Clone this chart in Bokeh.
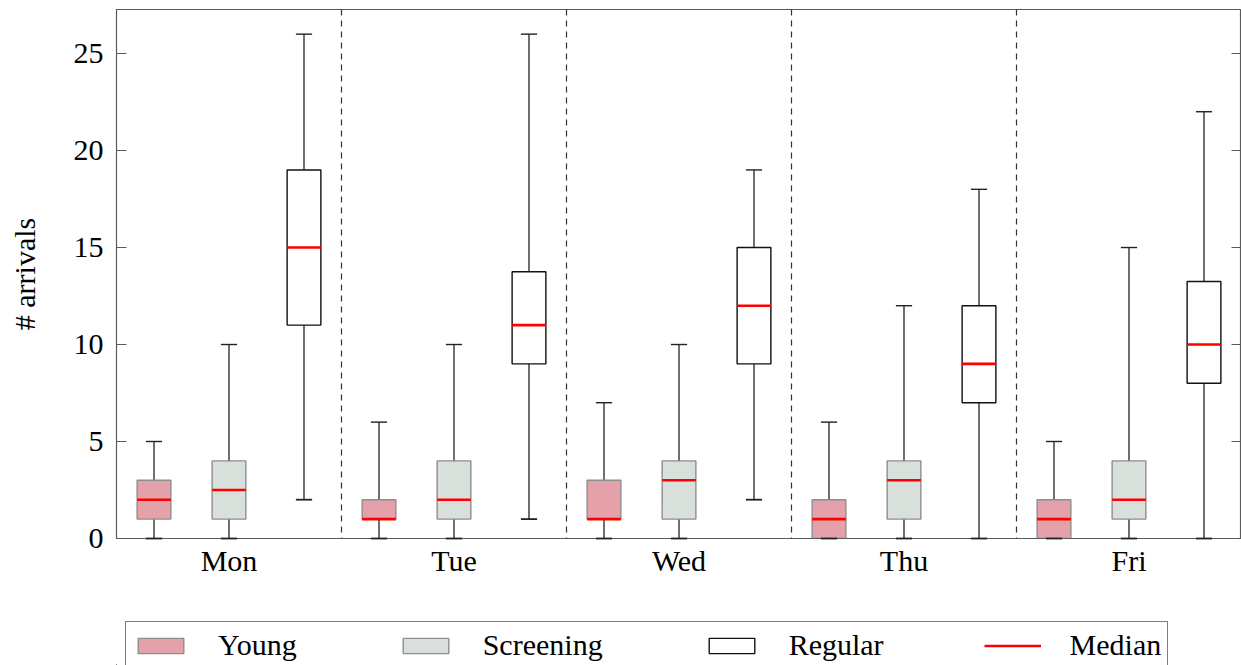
from bokeh.plotting import figure
from bokeh.layouts import column
from bokeh.models import (ColumnDataSource, Span, Legend, LegendItem, LinearAxis,
                          FixedTicker, CustomJSTickFormatter)
from bokeh.embed import file_html
from bokeh.resources import INLINE

# ---------------- data ----------------
days = ["Mon", "Tue", "Wed", "Thu", "Fri"]

young_min = [0, 0, 0, 0, 0]
young_q1 = [1, 1, 1, 0, 0]
young_med = [2, 1, 1, 1, 1]
young_q3 = [3, 2, 3, 2, 2]
young_max = [5, 6, 7, 6, 5]

screen_min = [0, 0, 0, 0, 0]
screen_q1 = [1, 1, 1, 1, 1]
screen_med = [2.5, 2, 3, 3, 2]
screen_q3 = [4, 4, 4, 4, 4]
screen_max = [10, 10, 10, 12, 15]

regular_min = [2, 1, 2, 0, 0]
regular_q1 = [11, 9, 9, 7, 8]
regular_med = [15, 11, 12, 9, 10]
regular_q3 = [19, 13.75, 15, 12, 13.25]
regular_max = [26, 26, 19, 18, 22]

y_ticks = [0, 5, 10, 15, 20, 25]
legend_labels = ["Young", "Screening", "Regular", "Median"]

# ---------------- styling ----------------
FONT = "Liberation Serif"
FS = "30px"
AX = "#5a5a5a"
BOX_W = 0.15
CAP_W = 0.072
YOUNG_FILL, SCREEN_FILL, REG_FILL = "#e5a1aa", "#d9dfdb", "white"
LIGHT_EDGE, DARK_EDGE = "#8e8e8e", "#111111"
MED_COLOR = "#ff0000"

p = figure(width=1241, height=580, x_range=(0, 5), y_range=(0, 27.27),
           output_backend="svg", toolbar_location=None,
           min_border_left=116, min_border_top=9, min_border_right=0,
           min_border_bottom=42, x_axis_type=None, y_axis_type=None)
p.grid.visible = False
p.outline_line_color = AX
p.outline_line_width = 1.2
p.background_fill_color = "white"
p.border_fill_color = "white"

# left axis
yl = LinearAxis(ticker=FixedTicker(ticks=y_ticks), axis_label="# arrivals")
yl.major_tick_in = 10
yl.major_tick_out = 0
yl.minor_tick_line_color = None
yl.axis_line_color = AX
yl.major_tick_line_color = AX
yl.major_label_text_font = FONT
yl.major_label_text_font_size = FS
yl.major_label_text_color = "black"
yl.major_label_standoff = 13
yl.axis_label_text_font = FONT
yl.axis_label_text_font_size = FS
yl.axis_label_text_font_style = "normal"
yl.axis_label_text_color = "black"
yl.axis_label_standoff = 30
p.add_layout(yl, "left")

# right axis (ticks only)
yr = LinearAxis(ticker=FixedTicker(ticks=y_ticks),
                formatter=CustomJSTickFormatter(code="return ''"))
yr.major_tick_in = 10
yr.major_tick_out = 0
yr.minor_tick_line_color = None
yr.axis_line_color = AX
yr.major_tick_line_color = AX
yr.major_label_standoff = 0
yr.major_label_text_font_size = "1px"
p.add_layout(yr, "right")

# bottom axis with day labels
centers = [i + 0.5 for i in range(len(days))]
xb = LinearAxis(ticker=FixedTicker(ticks=centers),
                major_label_overrides={c: d for c, d in zip(centers, days)})
xb.major_tick_in = 0
xb.major_tick_out = 0
xb.minor_tick_line_color = None
xb.axis_line_color = AX
xb.major_label_text_font = FONT
xb.major_label_text_font_size = FS
xb.major_label_text_color = "black"
xb.major_label_standoff = 5
p.add_layout(xb, "below")

# separators
for i in range(1, len(days)):
    p.add_layout(Span(location=i, dimension="height", line_color="#333333",
                      line_width=1.2, line_dash="6 5"))

series = [
    ("Young", 1 / 6, young_min, young_q1, young_med, young_q3, young_max, YOUNG_FILL, LIGHT_EDGE),
    ("Screening", 0.5, screen_min, screen_q1, screen_med, screen_q3, screen_max, SCREEN_FILL, LIGHT_EDGE),
    ("Regular", 5 / 6, regular_min, regular_q1, regular_med, regular_q3, regular_max, REG_FILL, DARK_EDGE),
]

sources = {}
for name, off, mn, q1, md, q3, mx, fill, line in series:
    x = [i + off for i in range(len(days))]
    src = ColumnDataSource(dict(
        x=x, mn=mn, q1=q1, md=md, q3=q3, mx=mx,
        x0=[v - BOX_W / 2 for v in x], x1=[v + BOX_W / 2 for v in x],
        c0=[v - CAP_W / 2 for v in x], c1=[v + CAP_W / 2 for v in x]))
    sources[name] = src
    # whiskers
    p.segment(x0="x", y0="q3", x1="x", y1="mx", source=src, line_color="#222222", line_width=1.3)
    p.segment(x0="x", y0="mn", x1="x", y1="q1", source=src, line_color="#222222", line_width=1.3)
    # box
    p.vbar(x="x", width=BOX_W, bottom="q1", top="q3", source=src,
           fill_color=fill, line_color=line, line_width=1.4)
    # caps
    p.segment(x0="c0", y0="mx", x1="c1", y1="mx", source=src, line_color="#222222",
              line_width=1.4, level="annotation")
    p.segment(x0="c0", y0="mn", x1="c1", y1="mn", source=src, line_color="#222222",
              line_width=1.8, level="annotation")
    # median
    p.segment(x0="x0", y0="md", x1="x1", y1="md", source=src, line_color=MED_COLOR,
              line_width=2.6, level="annotation")

# ---------------- legend strip below ----------------
# same data sources, but the strip's ranges lie far away from the data, so only the legend shows
p2 = figure(width=1241, height=85, x_range=(1000, 1001), y_range=(1000, 1001),
            output_backend="svg", toolbar_location=None,
            min_border_left=116, min_border_top=39, min_border_right=0,
            min_border_bottom=0, x_axis_type=None, y_axis_type=None)
p2.grid.visible = False
p2.outline_line_color = None
p2.background_fill_color = "white"
p2.border_fill_color = "white"

ly = p2.vbar(x="x", top="q3", bottom="q1", width=BOX_W, source=sources["Young"],
             fill_color=YOUNG_FILL, line_color=LIGHT_EDGE, line_width=1.4)
ls = p2.vbar(x="x", top="q3", bottom="q1", width=BOX_W, source=sources["Screening"],
             fill_color=SCREEN_FILL, line_color=LIGHT_EDGE, line_width=1.4)
lr = p2.vbar(x="x", top="q3", bottom="q1", width=BOX_W, source=sources["Regular"],
             fill_color=REG_FILL, line_color=DARK_EDGE, line_width=1.4)
lm = p2.segment(x0="x0", y0="md", x1="x1", y1="md", source=sources["Young"],
                line_color=MED_COLOR, line_width=2.6)

legend = Legend(items=[LegendItem(label=lab, renderers=[r])
                       for lab, r in zip(legend_labels, [ly, ls, lr, lm])],
                orientation="horizontal", location=(9, -4), margin=0)
legend.label_text_font = FONT
legend.label_text_font_size = FS
legend.label_text_color = "black"
legend.glyph_width = 57
legend.glyph_height = 19
legend.label_standoff = 29
legend.spacing = 100
legend.padding = 6
legend.border_line_color = "black"
legend.border_line_width = 1.2
legend.background_fill_color = "white"
legend.background_fill_alpha = 1.0
p2.add_layout(legend, "center")

open("out.html", "w").write(file_html(column(p, p2, spacing=0), INLINE))
